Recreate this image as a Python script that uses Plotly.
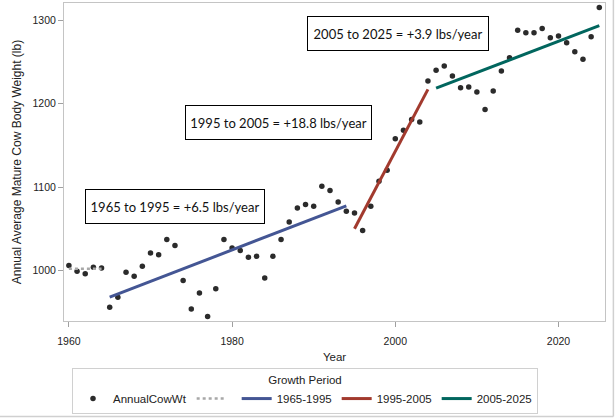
import plotly.graph_objects as go

years = list(range(1960, 2026))
weights = [1006, 999, 996, 1004, 1003, 956, 968, 998, 993, 1005,
           1021, 1019, 1037, 1030, 988, 954, 973, 945, 978, 1037,
           1027, 1024, 1016, 1017, 991, 1017, 1037, 1058, 1075, 1079,
           1077, 1101, 1096, 1082, 1071, 1069, 1048, 1077, 1107, 1120,
           1158, 1168, 1181, 1178, 1227, 1240, 1245, 1233, 1219, 1220,
           1214, 1193, 1215, 1239, 1255, 1288, 1285, 1285, 1290, 1279,
           1281, 1273, 1262, 1253, 1280, 1315]

base_x = [1960, 1964]
base_y = [1002, 1002]
p1_x = [1965, 1994]
p1_y = [968, 1077.5]
p2_x = [1995, 2004]
p2_y = [1050, 1217]
p3_x = [2005, 2025]
p3_y = [1218.5, 1293.3]

period_names = ["1965-1995", "1995-2005", "2005-2025"]
period_colors = ["#445694", "#A23A2E", "#01665E"]
notes = ["1965 to 1995 = +6.5 lbs/year",
         "1995 to 2005 = +18.8 lbs/year",
         "2005 to 2025 = +3.9 lbs/year"]
note_x = [1973.0, 1985.7, 2000.3]
note_y = [1076.3, 1177.2, 1283.9]
note_w = [170, 177, 172]

FONT = "Liberation Sans"

fig = go.Figure()
fig.add_trace(go.Scatter(x=years, y=weights, mode="markers", name="AnnualCowWt",
                         marker=dict(color="#2b2b2b", size=5.5)))
fig.add_trace(go.Scatter(x=base_x, y=base_y, mode="lines", name="",
                         line=dict(color="#a8a8a8", width=2.5, dash="3px,3px")))
for xs, ys, nm, col in zip([p1_x, p2_x, p3_x], [p1_y, p2_y, p3_y], period_names, period_colors):
    fig.add_trace(go.Scatter(x=xs, y=ys, mode="lines", name=nm,
                             line=dict(color=col, width=3)))

for t, x, y, w in zip(notes, note_x, note_y, note_w):
    fig.add_annotation(x=x, y=y, xref="x", yref="y", text=t, showarrow=False,
                       font=dict(family="Lato", size=13, color="#111"),
                       bgcolor="white", bordercolor="black", borderwidth=1,
                       borderpad=4, width=w, height=25)

# outer frame (right and bottom edges of the picture)
fig.add_shape(type="line", xref="paper", yref="paper", x0=1.0155, x1=1.0155, y0=1.02, y1=-0.30,
              line=dict(color="#d0d0d0", width=1.5))
fig.add_shape(type="line", xref="paper", yref="paper", x0=-0.13, x1=1.0155, y0=-0.30, y1=-0.30,
              line=dict(color="#d0d0d0", width=1.5))

axis_common = dict(showgrid=False, zeroline=False, showline=True, linecolor="#c4c4c4",
                   linewidth=1, mirror=True, ticks="outside", ticklen=5, tickcolor="#a0a0a0",
                   tickfont=dict(family=FONT, size=10.5, color="#222"))
fig.update_xaxes(range=[1959.4, 2025.7], tickvals=[1960, 1980, 2000, 2020],
                 ticklabelstandoff=5,
                 title=dict(text="Year", font=dict(family=FONT, size=11.5, color="#222"), standoff=7),
                 **axis_common)
fig.update_yaxes(range=[939.5, 1320.5], tickvals=[1000, 1100, 1200, 1300],
                 title=dict(text="Annual Average Mature Cow Body Weight (lb)",
                            font=dict(family=FONT, size=12, color="#222"), standoff=8),
                 **axis_common)

fig.update_layout(
    width=616, height=419,
    margin=dict(l=64, r=11, t=3, b=98),
    plot_bgcolor="white", paper_bgcolor="white",
    font=dict(family=FONT, size=11.5, color="#222"),
    legend=dict(orientation="h", x=0.0148, xanchor="left", y=-0.2205, yanchor="middle",
                bordercolor="#d0d0d0", borderwidth=1, bgcolor="white",
                title=dict(text="Growth Period", side="top center",
                           font=dict(family=FONT, size=11.5)),
                font=dict(family=FONT, size=11.5), itemwidth=30, tracegroupgap=0),
)

fig.write_html("out.html")
